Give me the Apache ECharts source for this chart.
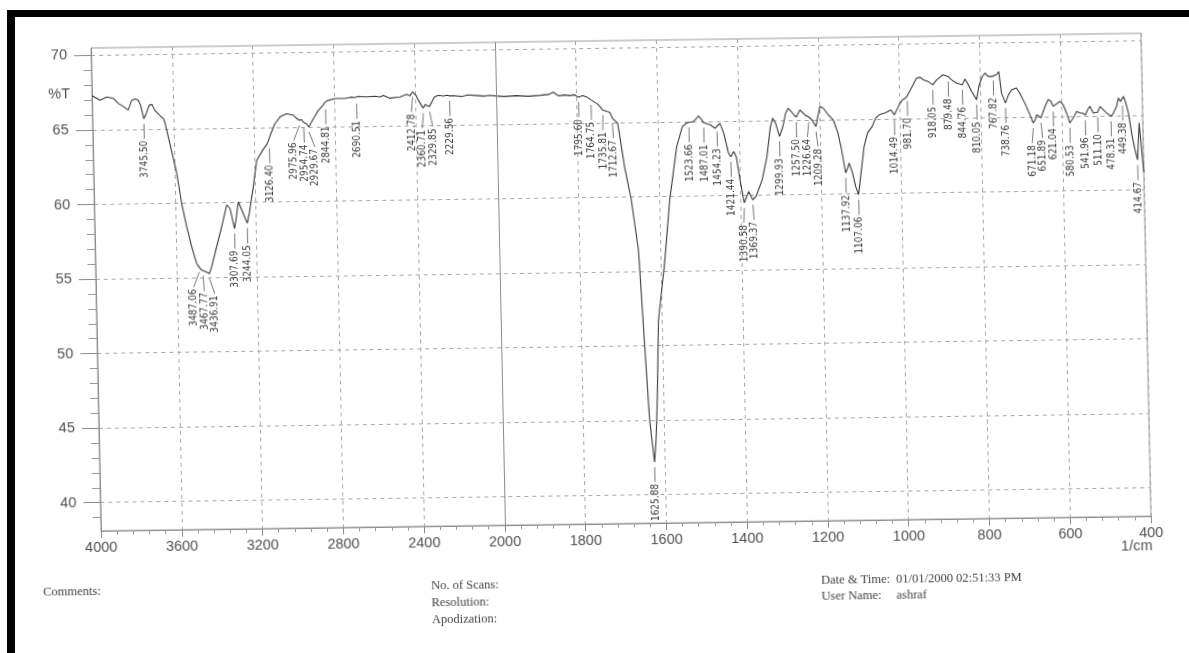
<!DOCTYPE html>
<html>
<head>
<meta charset="utf-8">
<title>FTIR spectrum</title>
<script src="https://cdn.jsdelivr.net/npm/echarts@6/dist/echarts.min.js"></script>
<style>
  html, body { margin: 0; padding: 0; background: #fff; width: 1189px; height: 653px; overflow: hidden; position: relative; }
  /* the printed sheet sits slightly askew on the scanner bed */
  #chart { position: absolute; left: 0; top: 0; width: 1189px; height: 653px;
           transform-origin: 91px 48px; transform: matrix(1, -0.014, 0.0207, 1, 0, 0); }
  .edge { position: absolute; background: #000; }
</style>
</head>
<body>
<div id="chart"></div>
<div class="edge" style="left:7px;top:10px;width:1182px;height:7px"></div>
<div class="edge" style="left:7px;top:10px;width:8px;height:643px"></div>
<script>
// Spectrum trace: wavenumber (1/cm) and transmittance (%T)
const wavenumbers = [
  4000, 3994, 3961, 3927, 3895, 3870, 3846, 3822, 3804, 3787, 3771, 3760, 3745.50, 3733, 3718, 3703,
  3690, 3665, 3649, 3641, 3619, 3588, 3567, 3544, 3522, 3500, 3487.06, 3475, 3467.77, 3450, 3436.91,
  3425, 3398, 3371, 3344, 3328, 3307.69, 3300, 3286, 3270, 3244.05, 3233, 3211, 3191, 3157, 3140,
  3133, 3126.40, 3118, 3097, 3071, 3038, 3005, 2990, 2975.96, 2965, 2954.74, 2940, 2929.67, 2906,
  2881, 2856, 2850, 2844.81, 2835, 2797, 2748, 2720, 2698, 2690.51, 2684, 2640, 2600, 2574, 2557,
  2525, 2475, 2442, 2425, 2412.78, 2395, 2385, 2360.71, 2350, 2340, 2329.85, 2320, 2305, 2285, 2260,
  2240, 2229.56, 2200, 2170, 2140, 2100, 2060, 2030, 2000,
  1980, 1950, 1920, 1890, 1870, 1858, 1845, 1830, 1817, 1805, 1795.60, 1785, 1775, 1764.75, 1750,
  1743, 1735.81, 1725, 1719, 1712.67, 1700, 1694, 1685, 1670, 1655, 1644, 1636, 1625.88, 1621, 1616,
  1609, 1590, 1575, 1565, 1555, 1540, 1530, 1523.66, 1512, 1499, 1487.01, 1471, 1459, 1454.23, 1447,
  1438, 1427, 1421.44, 1414, 1408, 1400, 1390.58, 1384, 1379, 1369.37, 1361, 1345, 1332, 1322, 1316,
  1309, 1299.93, 1291, 1284, 1277, 1270, 1263, 1257.50, 1248, 1236, 1226.64, 1219, 1209.28, 1204,
  1198.5, 1190, 1178, 1166, 1155, 1147, 1137.92, 1133, 1129, 1121, 1114, 1107.06, 1100, 1091, 1082,
  1070, 1061, 1052, 1040, 1031, 1023, 1014.49, 1002, 994, 986, 981.70, 971, 958, 949, 941, 929,
  918.05, 908, 892, 879.48, 871, 859, 844.76, 838, 830, 822, 810.05, 803, 795, 788, 780, 772, 767.82,
  760, 754, 748, 738.76, 731, 723, 711, 703, 691, 679, 671.18, 666, 662, 651.89, 647, 641, 633, 626,
  621.04, 612, 604, 596, 588, 580.53, 572, 563, 555, 547, 541.96, 535, 530, 522, 511.10, 505, 497,
  489, 478.31, 472, 464, 459, 454, 449.38, 446, 441, 435, 428, 422, 414.67, 409, 403, 400
];
const transmittance = [
  67.3, 67.2, 67.0, 67.2, 67.1, 66.75, 66.55, 66.3, 66.95, 67.05, 66.95, 66.6, 65.7, 66.05, 66.6, 66.65,
  66.25, 65.9, 65.7, 65.4, 64.0, 62.0, 60.0, 58.4, 57.1, 56.0, 55.7, 55.5, 55.45, 55.35, 55.25,
  55.7, 57.05, 58.4, 59.85, 59.6, 58.25, 58.8, 60.05, 59.5, 58.6, 59.25, 61.0, 62.8, 63.55, 63.85,
  64.05, 63.95, 64.6, 65.25, 65.7, 65.9, 65.8, 65.6, 65.45, 65.5, 65.3, 65.2, 65.0, 65.55,
  66.1, 66.45, 66.6, 66.5, 66.75, 66.88, 66.88, 66.95, 66.93, 66.85, 67.0, 66.96, 67.0, 66.95, 67.05,
  66.85, 66.93, 67.1, 67.0, 67.25, 67.0, 66.7, 66.15, 66.4, 66.3, 66.25, 66.5, 66.9, 67.0, 66.95,
  67.0, 66.95, 66.95, 66.9, 67.0, 66.95, 66.9, 66.95, 66.9,
  66.85, 66.9, 66.85, 66.9, 66.95, 67.1, 66.85, 66.9, 66.85, 66.9, 66.75, 66.85, 66.75, 66.55, 66.3,
  66.1, 65.85, 65.75, 65.7, 65.3, 64.95, 63.8, 62.0, 59.8, 56.45, 49.75, 45.05, 42.2, 43.7, 46.4,
  51.7, 55.75, 59.77, 61.55, 63.35, 64.67, 64.9, 64.95, 65.0, 65.37, 64.92, 64.76, 64.53, 64.65, 64.86,
  64.2, 62.85, 62.6, 62.95, 62.6, 61.05, 59.5, 59.93, 60.26, 59.7, 59.92, 61.03, 62.59, 64.59, 65.15,
  64.81, 63.92, 64.58, 65.45, 65.8, 65.6, 65.35, 65.2, 65.68, 65.34, 65.2, 65.0, 64.55, 65.22,
  65.89, 65.77, 65.32, 64.98, 64.09, 62.97, 61.41, 61.73, 62.07, 61.4, 60.5, 59.94, 61.39, 63.17, 64.07,
  64.5, 65.06, 65.28, 65.39, 65.49, 65.6, 65.26, 65.93, 66.26, 66.37, 66.52, 67.04, 67.7, 67.76, 67.58, 67.46,
  67.24, 67.57, 67.9, 67.78, 67.56, 67.33, 67.21, 67.6, 67.21, 66.76, 66.2, 67.2, 67.75, 67.98, 67.74, 67.74, 67.8,
  67.85, 68.07, 66.62, 65.95, 66.5, 66.83, 66.95, 66.61, 65.93, 65.14, 64.58, 64.8, 65.14, 64.92, 65.02, 65.69, 66.14, 66.02,
  65.68, 65.85, 66.01, 65.78, 65.22, 64.55, 64.88, 65.32, 65.21, 65.2, 65.05, 65.45, 65.65, 65.2, 65.25, 65.63, 65.41,
  65.19, 64.96, 65.18, 65.62, 66.18, 65.95, 66.0, 66.28, 65.84, 65.17, 63.82, 62.9, 62.0, 64.5, 62.3, 61.2
];

// Peak-picked wavenumbers printed under the trace
const peakWavenumbers = [
  3745.50, 3487.06, 3467.77, 3436.91, 3307.69, 3244.05, 3126.40, 2975.96, 2954.74, 2929.67, 2844.81,
  2690.51, 2412.78, 2360.71, 2329.85, 2229.56, 1795.60, 1764.75, 1735.81, 1712.67, 1625.88, 1523.66,
  1487.01, 1454.23, 1421.44, 1390.58, 1369.37, 1299.93, 1257.50, 1226.64, 1209.28, 1137.92, 1107.06,
  1014.49, 981.70, 918.05, 879.48, 844.76, 810.05, 767.82, 738.76, 671.18, 651.89, 621.04, 580.53,
  541.96, 511.10, 478.31, 449.38, 414.67
];

// Axis tick labels: 400 1/cm steps down to 2000, then 200 1/cm steps
const xTickLabels = ['4000', '3600', '3200', '2800', '2400', '2000', '1800', '1600', '1400', '1200', '1000', '800', '600', '400'];
const yTickValues = [40, 45, 50, 55, 60, 65, 70];

// The chart paper changes scale at 2000 1/cm; each tick step has the same width
function toPos(wn) {
  return wn >= 2000 ? (4000 - wn) / 400 : 5 + (2000 - wn) / 200;
}

const yMinorValues = [];
for (let v = 39; v <= 70; v++) if (v % 5 !== 0) yMinorValues.push(v);

const curve = wavenumbers.map((w, i) => [toPos(w), transmittance[i]]);

// Spread crowded labels apart so their text does not overlap
function spreadPositions(xs, gap) {
  const out = xs.slice();
  for (let it = 0; it < 80; it++) {
    let moved = false;
    for (let i = 1; i < out.length; i++) {
      const d = out[i] - out[i - 1];
      if (d < gap - 1e-6) {
        const s = (gap - d) / 2;
        out[i - 1] -= s; out[i] += s; moved = true;
      }
    }
    if (!moved) break;
  }
  return out;
}
const peakPos = peakWavenumbers.map(toPos);
const labelPos = spreadPositions(peakPos, 0.13);
const peakData = peakWavenumbers.map((w, i) => [peakPos[i], transmittance[wavenumbers.indexOf(w)], labelPos[i], w]);

const chart = echarts.init(document.getElementById('chart'), null, { renderer: 'canvas' });

const tickFont = { color: '#505050', fontSize: 14.5, fontFamily: '"Liberation Sans", Arial, sans-serif' };
const serif = '12.5px "Liberation Serif", "Times New Roman", serif';

chart.setOption({
  animation: false,
  backgroundColor: '#fff',
  grid: { left: 91, top: 48, width: 1050, height: 483, show: true, borderColor: '#9a9a9a', borderWidth: 1 },
  xAxis: {
    type: 'value', min: 0, max: 13, interval: 1,
    axisLine: { show: true, onZero: false, lineStyle: { color: '#8c8c8c', width: 1 } },
    axisTick: { show: true, length: 7, lineStyle: { color: '#8c8c8c' } },
    minorTick: { show: true, splitNumber: 5, length: 4, lineStyle: { color: '#9a9a9a' } },
    axisLabel: Object.assign({ margin: 9, showMinLabel: true, showMaxLabel: true,
      formatter: v => xTickLabels[Math.round(v)] }, tickFont),
    splitLine: { show: true, lineStyle: { type: [4, 4], color: '#a8a8a8', width: 1 } }
  },
  yAxis: [
    {
      type: 'value', min: 38.1, max: 70.5, minInterval: 5, maxInterval: 5,
      axisLine: { show: true, onZero: false, lineStyle: { color: '#8c8c8c', width: 1 } },
      axisTick: { show: true, length: 17, customValues: yTickValues, lineStyle: { color: '#8c8c8c' } },
      axisLabel: Object.assign({ margin: 24, customValues: yTickValues }, tickFont),
      splitLine: { show: true, lineStyle: { type: [4, 4], color: '#a8a8a8', width: 1 } }
    },
    {
      type: 'value', min: 38.1, max: 70.5, position: 'left',
      axisLine: { show: false },
      axisTick: { show: true, length: 8, customValues: yMinorValues, lineStyle: { color: '#9a9a9a' } },
      axisLabel: { show: false },
      splitLine: { show: false }
    }
  ],
  series: [
    {
      name: '%T', type: 'line', data: curve, showSymbol: false, symbol: 'none',
      lineStyle: { color: '#3a3a3a', width: 1.1 },
      z: 3,
      markLine: {
        silent: true, symbol: 'none', label: { show: false },
        lineStyle: { color: '#8c8c8c', type: 'solid', width: 1 },
        data: [{ xAxis: toPos(2000) }]
      }
    },
    {
      name: 'peaks', type: 'custom', data: peakData, z: 4,
      renderItem: function (params, api) {
        const p = api.coord([api.value(0), api.value(1)]);
        const lx = api.coord([api.value(2), api.value(1)])[0];
        const yA = p[1] + 5, yB = p[1] + 20;
        return {
          type: 'group',
          children: [
            { type: 'line', shape: { x1: p[0], y1: yA, x2: lx, y2: yB },
              style: { stroke: '#555', lineWidth: 0.8 } },
            { type: 'text', x: lx, y: yB + 2, rotation: Math.PI / 2,
              style: { text: Number(api.value(3)).toFixed(2), align: 'right', verticalAlign: 'middle',
                       fill: '#383838', font: '10px "Liberation Sans Narrow", "DejaVu Sans Condensed", Arial, sans-serif' } }
          ]
        };
      }
    }
  ],
  graphic: [
    { type: 'text', x: 69, y: 94, style: { text: '%T', align: 'right', verticalAlign: 'middle', fill: '#505050', font: '14.5px "Liberation Sans", Arial, sans-serif' } },
    { type: 'text', x: 1142, y: 561, style: { text: '1/cm', align: 'right', verticalAlign: 'middle', fill: '#505050', font: '14.5px "Liberation Sans", Arial, sans-serif' } },
    { type: 'text', x: 32, y: 592, style: { text: 'Comments:', align: 'left', verticalAlign: 'middle', fill: '#444', font: serif } },
    { type: 'text', x: 420, y: 591, style: { text: 'No. of Scans:', align: 'left', verticalAlign: 'middle', fill: '#444', font: serif } },
    { type: 'text', x: 420, y: 608, style: { text: 'Resolution:', align: 'left', verticalAlign: 'middle', fill: '#444', font: serif } },
    { type: 'text', x: 420, y: 625, style: { text: 'Apodization:', align: 'left', verticalAlign: 'middle', fill: '#444', font: serif } },
    { type: 'text', x: 810, y: 591, style: { text: 'Date & Time:', align: 'left', verticalAlign: 'middle', fill: '#444', font: serif } },
    { type: 'text', x: 885, y: 591, style: { text: '01/01/2000 02:51:33 PM', align: 'left', verticalAlign: 'middle', fill: '#444', font: serif } },
    { type: 'text', x: 810, y: 607, style: { text: 'User Name:', align: 'left', verticalAlign: 'middle', fill: '#444', font: serif } },
    { type: 'text', x: 885, y: 607, style: { text: 'ashraf', align: 'left', verticalAlign: 'middle', fill: '#444', font: serif } }
  ]
});
</script>
</body>
</html>
